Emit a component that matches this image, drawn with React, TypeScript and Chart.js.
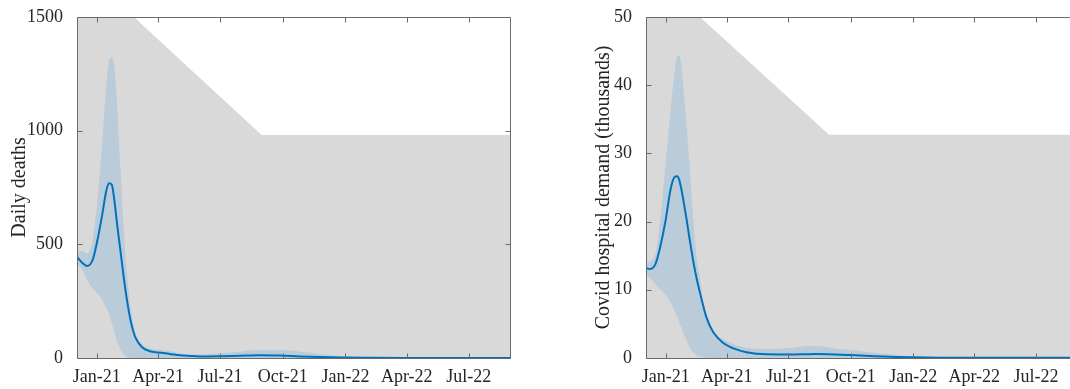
import React, { useEffect, useRef } from "react";
import { Chart, registerables } from "chart.js";

Chart.register(...registerables);

// ---------- shared x axis (days since 1 Jan 2021) ----------
const xMin = -29;
const xMax = 608;
const xTickDays = [0, 90, 181, 273, 365, 455, 546];
const xTickLabels = ["Jan-21", "Apr-21", "Jul-21", "Oct-21", "Jan-22", "Apr-22", "Jul-22"];

// ---------- left panel: daily deaths ----------
const deathDays = [-29, -21, -14, -6, 1, 8, 14, 18, 22, 26, 30, 35, 40, 45, 50, 57, 67, 78, 90, 107, 122, 137, 151, 165, 181, 210, 240, 270, 298, 328, 357, 406, 455, 546, 608];
const deathMean = [444, 418, 404, 432, 518, 630, 735, 768, 762, 690, 585, 465, 345, 242, 160, 88, 46, 30, 24, 18, 12, 9, 7, 7, 8, 10, 12, 11, 7, 4, 2, 1, 0.5, 0.3, 0.2];
const deathUpper = [466, 471, 459, 520, 693, 950, 1200, 1305, 1322, 1275, 1105, 820, 550, 345, 212, 112, 60, 42, 37, 31, 21, 14, 16, 18, 21, 28, 35, 35, 28, 18, 9, 3, 1, 0.5, 0.3];
const deathLower = [415, 386, 342, 306, 282, 255, 220, 196, 155, 113, 72, 38, 14, 3, 0, 0, 0, 0, 0, 0, 0, 0, 0, 0, 0, 0, 0, 0, 0, 0, 0, 0, 0, 0, 0];
const deathCapDays = [-29, 242, 608];
const deathCapValues = [1730, 980, 980];
const deathYTicks = [0, 500, 1000, 1500];

// ---------- right panel: covid hospital demand (thousands) ----------
const hospDays = [-30, -23, -15, -8, 0, 7, 13, 17, 20, 23, 26, 31, 36, 41, 46, 50, 55, 60, 70, 85, 100, 119, 150, 190, 210, 220, 250, 280, 310, 340, 365, 406, 455, 546, 608];
const hospMean = [13.2, 13.05, 13.8, 16.3, 20.2, 24.6, 26.5, 26.65, 26.1, 24.8, 23.2, 20.2, 17, 14, 11.5, 9.8, 7.8, 6.0, 3.8, 2.2, 1.4, 0.85, 0.55, 0.52, 0.56, 0.57, 0.52, 0.4, 0.26, 0.16, 0.1, 0.05, 0.03, 0.02, 0.02];
const hospUpper = [13.9, 14.1, 15.3, 20.2, 28.5, 36, 41.8, 44.2, 44.3, 43, 39.8, 34, 27, 20, 14.5, 12, 8.5, 6.5, 4, 2.8, 2.0, 1.5, 1.3, 1.5, 1.75, 1.75, 1.4, 1.1, 0.75, 0.45, 0.2, 0.08, 0.05, 0.04, 0.04];
const hospLower = [12.5, 11.7, 10.8, 10.0, 9.2, 8.2, 7.0, 6.0, 5.2, 4.5, 3.7, 2.5, 1.5, 0.8, 0.4, 0.2, 0.1, 0, 0, 0, 0, 0, 0, 0, 0, 0, 0, 0, 0, 0, 0, 0, 0, 0, 0];
const hospCapDays = [-29, 241, 608];
const hospCapValues = [57.2, 32.7, 32.7];
const hospYTicks = [0, 10, 20, 30, 40, 50];

// ---------- styles ----------
const GRAY = "#d9d9d9";
const BAND = "#bacbd9";
const LINE = "#0072bd";
const TEXT = "#262626";
const AXIS = "#6a6a6a";
const FONT = "'Liberation Serif', 'Times New Roman', serif";

const pts = (xs: number[], ys: number[]) => xs.map((x, i) => ({ x, y: ys[i] }));

const framePlugin = {
  id: "matlabFrame",
  afterDatasetsDraw(chart: any) {
    const { ctx, chartArea: a, scales } = chart;
    const L = Math.round(a.left) + 0.5;
    const R = Math.round(a.right) - 0.5;
    const T = Math.round(a.top) + 0.5;
    const B = Math.round(a.bottom) + 0.5;
    const tl = 5;
    ctx.save();
    ctx.strokeStyle = AXIS;
    ctx.lineWidth = 1;
    ctx.beginPath();
    ctx.moveTo(L, T);
    ctx.lineTo(R, T);
    ctx.lineTo(R, B);
    ctx.lineTo(L, B);
    ctx.closePath();
    scales.x.ticks.forEach((t: any) => {
      const px = Math.round(scales.x.getPixelForValue(t.value)) + 0.5;
      ctx.moveTo(px, B);
      ctx.lineTo(px, B - tl);
      ctx.moveTo(px, T);
      ctx.lineTo(px, T + tl);
    });
    scales.y.ticks.forEach((t: any) => {
      const py = Math.round(scales.y.getPixelForValue(t.value)) + 0.5;
      ctx.moveTo(L, py);
      ctx.lineTo(L + tl, py);
      ctx.moveTo(R, py);
      ctx.lineTo(R - tl, py);
    });
    ctx.stroke();
    ctx.restore();
  },
};

type PanelProps = {
  left: number;
  width: number;
  yWidth: number;
  padRight: number;
  titlePad: number;
  title: string;
  yMax: number;
  yTicks: number[];
  days: number[];
  mean: number[];
  upper: number[];
  lower: number[];
  capDays: number[];
  capValues: number[];
};

function Panel(p: PanelProps) {
  const ref = useRef<HTMLCanvasElement | null>(null);
  useEffect(() => {
    if (!ref.current) return;
    const chart = new Chart(ref.current, {
      type: "line",
      data: {
        datasets: [
          {
            label: "capacity",
            data: pts(p.capDays, p.capValues),
            borderWidth: 0,
            backgroundColor: GRAY,
            fill: "origin",
            pointRadius: 0,
            tension: 0,
            order: 3,
            clip: 0,
          },
          {
            label: "lower",
            data: pts(p.days, p.lower),
            borderWidth: 0,
            borderColor: "rgba(0,0,0,0)",
            fill: false,
            pointRadius: 0,
            cubicInterpolationMode: "monotone",
            order: 2,
            clip: 0,
          },
          {
            label: "upper",
            data: pts(p.days, p.upper),
            borderWidth: 0,
            borderColor: "rgba(0,0,0,0)",
            backgroundColor: BAND,
            fill: "-1",
            pointRadius: 0,
            cubicInterpolationMode: "monotone",
            order: 1,
            clip: 0,
          },
          {
            label: "mean",
            data: pts(p.days, p.mean),
            borderWidth: 2,
            borderColor: LINE,
            fill: false,
            pointRadius: 0,
            cubicInterpolationMode: "monotone",
            order: 0,
          },
        ],
      } as any,
      options: {
        animation: false,
        responsive: false,
        devicePixelRatio: 1,
        events: [],
        layout: { padding: { left: 0, top: 16, right: p.padRight, bottom: 0 } },
        plugins: { legend: { display: false }, tooltip: { enabled: false } },
        scales: {
          x: {
            type: "linear",
            min: xMin,
            max: xMax,
            grid: { display: false },
            border: { display: false },
            afterBuildTicks: (axis: any) => {
              axis.ticks = xTickDays.map((v) => ({ value: v }));
            },
            afterFit: (axis: any) => {
              axis.height = 31;
            },
            ticks: {
              autoSkip: false,
              maxRotation: 0,
              padding: 0,
              color: TEXT,
              font: { family: FONT, size: 18 },
              callback: (v: any) => xTickLabels[xTickDays.indexOf(Number(v))],
            },
          },
          y: {
            type: "linear",
            min: 0,
            max: p.yMax,
            grid: { display: false },
            border: { display: false },
            afterBuildTicks: (axis: any) => {
              axis.ticks = p.yTicks.map((v) => ({ value: v }));
            },
            afterFit: (axis: any) => {
              axis.width = p.yWidth;
            },
            ticks: {
              padding: 6,
              color: TEXT,
              font: { family: FONT, size: 18 },
              callback: (v: any) => String(v),
            },
            title: {
              display: true,
              text: p.title,
              color: TEXT,
              font: { family: FONT, size: 20 },
              padding: { top: p.titlePad, bottom: 0 },
            },
          },
        },
      } as any,
      plugins: [framePlugin],
    });
    return () => chart.destroy();
  }, []);
  return (
    <canvas
      ref={ref}
      width={p.width}
      height={389}
      style={{ position: "absolute", left: p.left, top: 0, width: p.width, height: 389 }}
    />
  );
}

export default function App() {
  return (
    <div
      style={{
        position: "absolute",
        left: 0,
        top: 0,
        width: 1070,
        height: 389,
        overflow: "hidden",
        background: "#ffffff",
      }}
    >
      <Panel
        left={0}
        width={540}
        yWidth={77}
        padRight={29}
        titlePad={8}
        title="Daily deaths"
        yMax={1500}
        yTicks={deathYTicks}
        days={deathDays}
        mean={deathMean}
        upper={deathUpper}
        lower={deathLower}
        capDays={deathCapDays}
        capValues={deathCapValues}
      />
      <Panel
        left={540}
        width={560}
        yWidth={106}
        padRight={22}
        titlePad={52}
        title="Covid hospital demand (thousands)"
        yMax={50}
        yTicks={hospYTicks}
        days={hospDays}
        mean={hospMean}
        upper={hospUpper}
        lower={hospLower}
        capDays={hospCapDays}
        capValues={hospCapValues}
      />
    </div>
  );
}
